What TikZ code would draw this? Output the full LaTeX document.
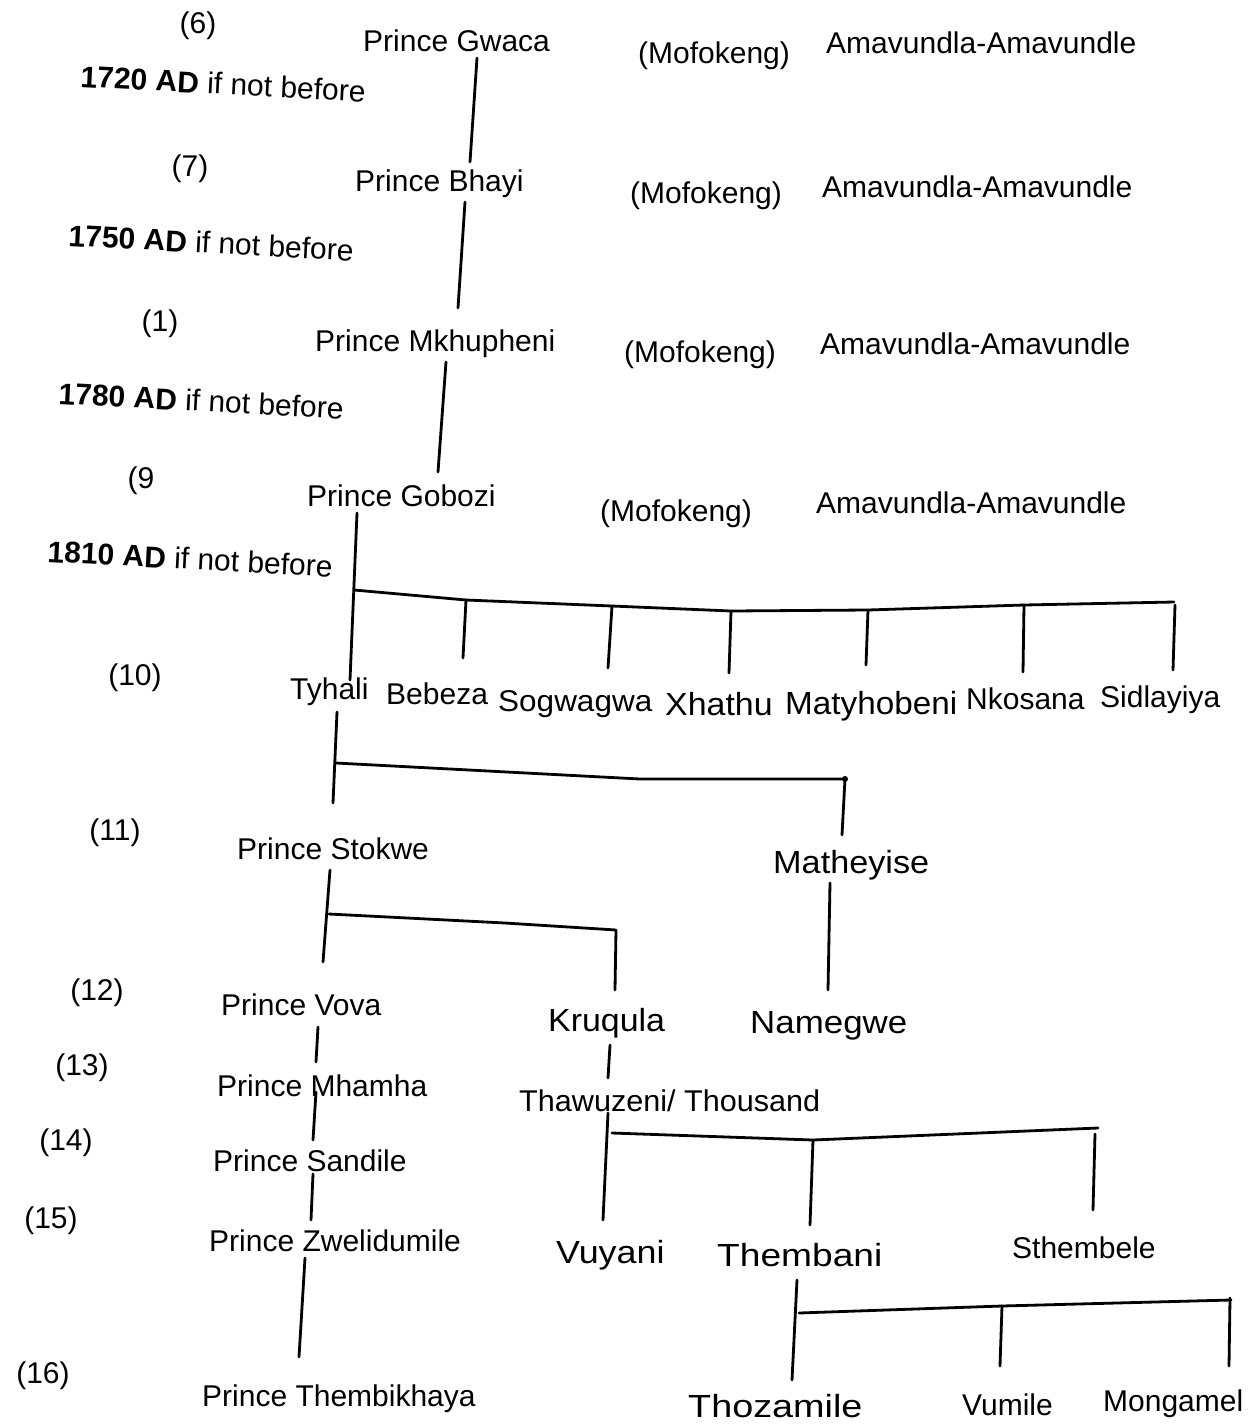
\documentclass[tikz,border=0pt]{standalone}
\usepackage{fontspec}
\setmainfont{Liberation Sans}
\begin{document}
\begin{tikzpicture}[x=1pt,y=-1pt,
  lbl/.style={anchor=base west,inner sep=0pt,font=\fontsize{30}{36}\selectfont},
  wide/.style={lbl,font=\fontsize{32}{38}\selectfont,xscale=#1},
  gen/.style={anchor=base,inner sep=0pt,font=\fontsize{30}{36}\selectfont},
  era/.style={anchor=base west,inner sep=0pt,rotate=-3,font=\fontsize{30}{36}\selectfont},
  link/.style={line width=2.8pt,line cap=round,line join=round}]
\useasboundingbox (0,0) rectangle (1255,1424);

% generation numbers
\node[gen] (g6)  at (198,33)   {(6)};
\node[gen] (g7)  at (190,176)  {(7)};
\node[gen] (g1)  at (160,331)  {(1)};
\node[gen] (g9)  at (141,488)  {(9};
\node[gen] (g10) at (135,685)  {(10)};
\node[gen] (g11) at (115,840)  {(11)};
\node[gen] (g12) at (97,1000)  {(12)};
\node[gen] (g13) at (82,1075)  {(13)};
\node[gen] (g14) at (66,1150)  {(14)};
\node[gen] (g15) at (51,1228)  {(15)};
\node[gen] (g16) at (43,1383)  {(16)};

% dates
\node[era] (d1720) at (80,87)  {\textbf{1720 AD} if not before};
\node[era] (d1750) at (68,246) {\textbf{1750 AD} if not before};
\node[era] (d1780) at (58,404) {\textbf{1780 AD} if not before};
\node[era] (d1810) at (47,562) {\textbf{1810 AD} if not before};

% senior line
\node[lbl] (gwaca)  at (363,51)  {Prince Gwaca};
\node[lbl] (mof1)   at (638,63)  {(Mofokeng)};
\node[lbl] (ama1)   at (826,53)  {Amavundla-Amavundle};
\node[lbl] (bhayi)  at (355,191) {Prince Bhayi};
\node[lbl] (mof2)   at (630,203) {(Mofokeng)};
\node[lbl] (ama2)   at (822,197) {Amavundla-Amavundle};
\node[lbl] (mkhu)   at (315,351) {Prince Mkhupheni};
\node[lbl] (mof3)   at (624,362) {(Mofokeng)};
\node[lbl] (ama3)   at (820,354) {Amavundla-Amavundle};
\node[lbl] (gobozi) at (307,506) {Prince Gobozi};
\node[lbl] (mof4)   at (600,521) {(Mofokeng)};
\node[lbl] (ama4)   at (816,513) {Amavundla-Amavundle};

% sons of Gobozi
\node[lbl] (tyhali) at (290,699)  {Tyhali};
\node[lbl] (bebeza) at (386,704)  {Bebeza};
\node[lbl,xscale=1.05] (sogw) at (498,711) {Sogwagwa};
\node[wide=1.06] (xhathu) at (665,715)  {Xhathu};
\node[wide=1.04] (matyh)  at (785,714)  {Matyhobeni};
\node[lbl] (nkos)   at (966,709)  {Nkosana};
\node[lbl] (sidl)   at (1100,707) {Sidlayiya};

% later generations
\node[lbl] (stokwe) at (237,859)     {Prince Stokwe};
\node[wide=1.07] (mathey) at (773,873)   {Matheyise};
\node[lbl] (vova)   at (221,1015)    {Prince Vova};
\node[wide=1.06] (kruq)   at (548,1031)  {Kruqula};
\node[wide=1.09] (nameg)  at (750,1033)  {Namegwe};
\node[lbl] (mhamha) at (217,1096)    {Prince Mhamha};
\node[lbl,xscale=1.02] (thaw) at (519,1111) {Thawuzeni/ Thousand};
\node[lbl] (sandi)  at (213,1171)    {Prince Sandile};
\node[lbl] (zweli)  at (209,1251)    {Prince Zwelidumile};
\node[wide=1.12] (vuyani) at (556,1263)  {Vuyani};
\node[wide=1.16] (thembn) at (717,1266)  {Thembani};
\node[lbl] (sthemb) at (1012,1258)   {Sthembele};
\node[lbl] (thembk) at (202,1406)    {Prince Thembikhaya};
\node[wide=1.18] (thoza)  at (688,1417)  {Thozamile};
\node[lbl] (vumile) at (962,1415)    {Vumile};
\node[lbl] (mongam) at (1103,1411)   {Mongamel};

% line ends
\coordinate (a1) at (477,58);   \coordinate (a2) at (470,162);
\coordinate (b1) at (465,202);  \coordinate (b2) at (458,308);
\coordinate (c1) at (446,362);  \coordinate (c2) at (438,472);
\coordinate (e1) at (357,513);  \coordinate (e2) at (350,680);
% Gobozi's bar
\coordinate (f0) at (354,590);
\coordinate (f1) at (466,600);  \coordinate (f1b) at (463,658);
\coordinate (f2) at (612,606);  \coordinate (f2b) at (608,668);
\coordinate (f3) at (731,611);  \coordinate (f3b) at (729,673);
\coordinate (f4) at (868,610);  \coordinate (f4b) at (866,665);
\coordinate (f5) at (1024,605); \coordinate (f5b) at (1023,672);
\coordinate (f6) at (1174,602); \coordinate (f6t) at (1175,605); \coordinate (f6b) at (1173,670);
% Tyhali's bar
\coordinate (h1) at (337,712);  \coordinate (h2) at (333,803);
\coordinate (h0) at (336,763);  \coordinate (hm) at (640,779);
\coordinate (hr) at (845,779);  \coordinate (hrb) at (842,835);
% Stokwe's bar
\coordinate (k1) at (330,870);  \coordinate (k2) at (323,962);
\coordinate (k0) at (329,914);  \coordinate (km) at (505,923);
\coordinate (kr) at (616,930);  \coordinate (krb) at (615,990);
\coordinate (m1) at (830,883);  \coordinate (m2) at (828,990);
% Vova's line
\coordinate (v1) at (318,1027); \coordinate (v2) at (316,1062);
\coordinate (v3) at (316,1092); \coordinate (v4) at (313,1140);
\coordinate (v5) at (313,1174); \coordinate (v6) at (311,1220);
\coordinate (v7) at (305,1258); \coordinate (v8) at (299,1357);
% Kruqula's line
\coordinate (q1) at (610,1045); \coordinate (q2) at (608,1078);
\coordinate (t1) at (608,1113); \coordinate (t2) at (603,1220);
\coordinate (t0) at (612,1133); \coordinate (tm) at (813,1140);
\coordinate (tr) at (1098,1128);
\coordinate (tmb) at (810,1225); \coordinate (trt) at (1095,1134); \coordinate (trb) at (1093,1210);
% Thembani's bar
\coordinate (n1) at (797,1280); \coordinate (n2) at (792,1380);
\coordinate (n0) at (799,1313); \coordinate (nm) at (1002,1306);
\coordinate (nr) at (1231,1300);
\coordinate (nmb) at (1000,1366); \coordinate (nrt) at (1230,1298); \coordinate (nrb) at (1229,1366);

% connectors
\draw[link] (a1) -- (a2);
\draw[link] (b1) -- (b2);
\draw[link] (c1) -- (c2);
\draw[link] (e1) -- (e2);
\draw[link] (f0) -- (f1) -- (f2) -- (f3) -- (f4) -- (f5) -- (f6);
\draw[link] (f1) -- (f1b);
\draw[link] (f2) -- (f2b);
\draw[link] (f3) -- (f3b);
\draw[link] (f4) -- (f4b);
\draw[link] (f5) -- (f5b);
\draw[link] (f6t) -- (f6b);

\draw[link] (h1) -- (h2);
\draw[link] (h0) -- (hm) -- (hr) -- (hrb);
\fill (hr) circle (3pt);

\draw[link] (k1) -- (k2);
\draw[link] (k0) -- (km) -- (kr) -- (krb);
\draw[link] (m1) -- (m2);

\draw[link] (v1) -- (v2);
\draw[link] (v3) -- (v4);
\draw[link] (v5) -- (v6);
\draw[link] (v7) -- (v8);

\draw[link] (q1) -- (q2);
\draw[link] (t1) -- (t2);
\draw[link] (t0) -- (tm) -- (tr);
\draw[link] (tm) -- (tmb);
\draw[link] (trt) -- (trb);

\draw[link] (n1) -- (n2);
\draw[link] (n0) -- (nm) -- (nr);
\draw[link] (nm) -- (nmb);
\draw[link] (nrt) -- (nrb);
\end{tikzpicture}
\end{document}
